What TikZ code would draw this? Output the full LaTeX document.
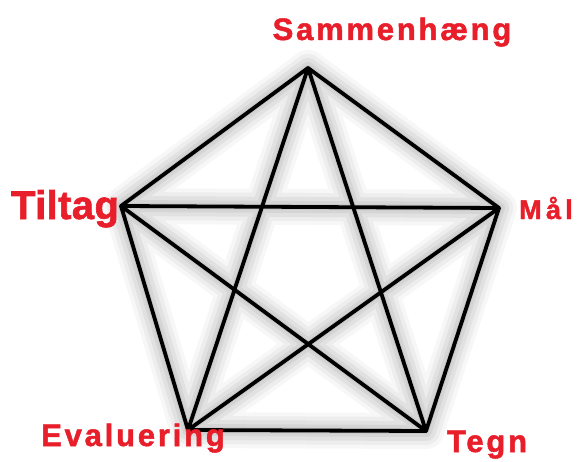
\documentclass[tikz,border=0pt]{standalone}
\usepackage{fontspec}
\setmainfont{Liberation Sans}
\newfontfamily\lblA[LetterSpace=9,FakeBold=1.6]{Liberation Sans Bold}
\newfontfamily\lblC[LetterSpace=16,FakeBold=1.6]{Liberation Sans Bold}
\newfontfamily\lblB[LetterSpace=1,FakeBold=1.6]{Liberation Sans Bold}
\definecolor{lblred}{RGB}{232,30,42}
\begin{document}
\begin{tikzpicture}[x=1pt,y=-1pt,
  edge/.style={line width=3.8pt, black, line cap=round},
  shad/.style={gray, line cap=round},
  lbl/.style={text=lblred, font=\lblA\fontsize{31}{33}\selectfont, inner sep=0pt, anchor=base}]
\useasboundingbox (0,0) rectangle (577,462);
\fill[white] (0,0) rectangle (577,462);
\coordinate (S) at (308,68);
\coordinate (T) at (121,206);
\coordinate (M) at (499,208);
\coordinate (E) at (188,430);
\coordinate (G) at (426,431);
% soft shadow
\begin{scope}[shift={(-10,-5)}]
\foreach \w/\o in {36/0.06,28/0.08,20/0.10,12/0.12,6/0.14}{
  \draw[shad, line width=\w pt, opacity=\o] (S)--(T) (S)--(M) (S)--(E) (S)--(G) (T)--(M) (T)--(E) (T)--(G) (M)--(E) (M)--(G) (E)--(G);
}
\end{scope}
\draw[edge] (S)--(T) (S)--(M) (S)--(E) (S)--(G) (T)--(M) (T)--(E) (T)--(G) (M)--(E) (M)--(G) (E)--(G);
\node[lbl] (ls) at (392,40) {Sammenhæng};
\node[lbl, font=\lblB\fontsize{40}{42}\selectfont] (lt) at (65,219) {Tiltag};
\node[lbl, font=\lblC\fontsize{27}{29}\selectfont] (lm) at (546,219) {Mål};
\node[lbl] (le) at (133,446) {Evaluering};
\node[lbl] (lg) at (487,452) {Tegn};
\end{tikzpicture}
\end{document}
